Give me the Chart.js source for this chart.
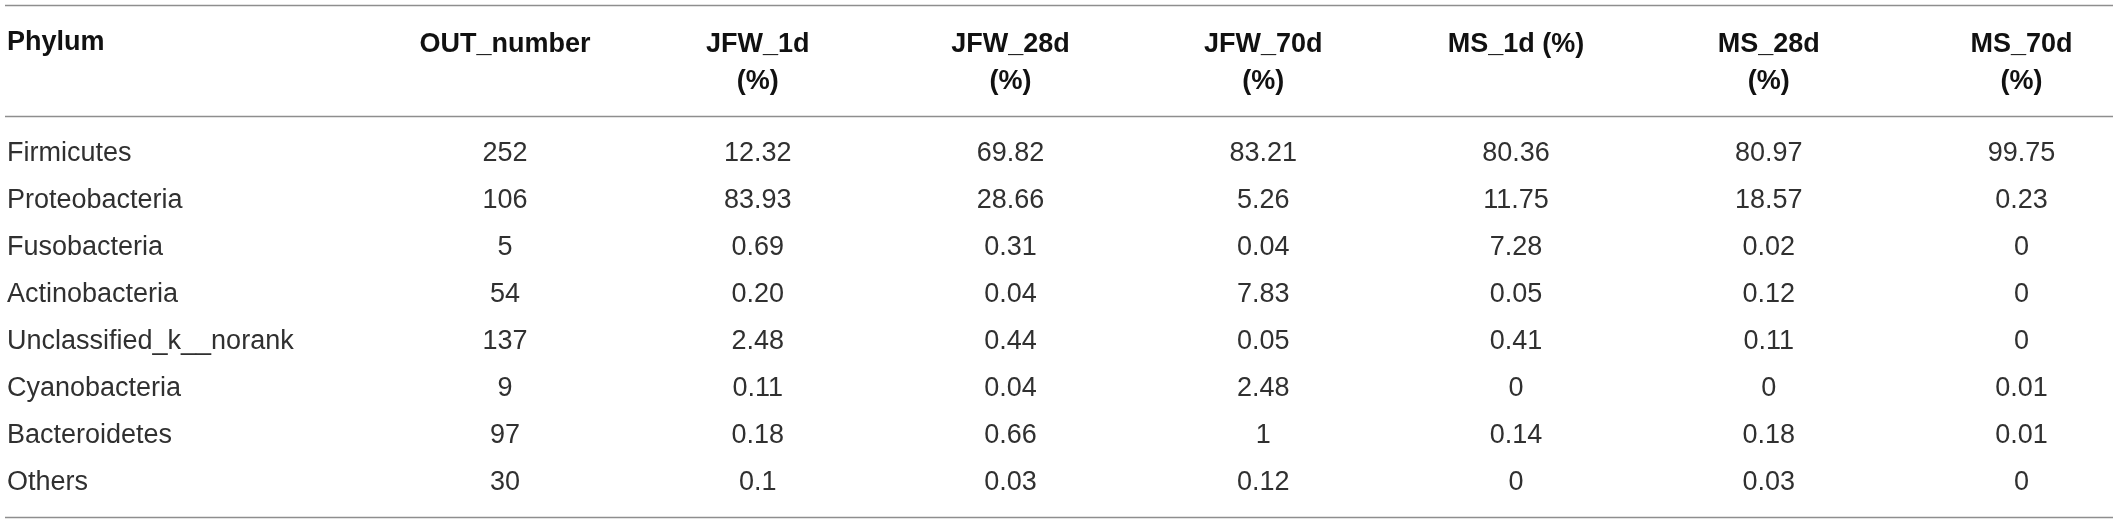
<!DOCTYPE html>
<html>
<head>
<meta charset="utf-8">
<script src="https://cdn.jsdelivr.net/npm/chart.js@4.4.1/dist/chart.umd.min.js"></script>
<style>
  html, body { margin: 0; padding: 0; background: #fff; }
  #wrap { width: 2118px; height: 525px; position: relative; }
</style>
</head>
<body>
<div id="wrap"><canvas id="table"></canvas></div>
<script>
// Rows (phyla) and columns of the table
const phyla = ['Firmicutes', 'Proteobacteria', 'Fusobacteria', 'Actinobacteria',
  'Unclassified_k__norank', 'Cyanobacteria', 'Bacteroidetes', 'Others'];
const headers = ['OUT_number', 'JFW_1d (%)', 'JFW_28d (%)', 'JFW_70d (%)',
  'MS_1d (%)', 'MS_28d (%)', 'MS_70d (%)'];
// how each header wraps in the original
const headerLines = [['OUT_number'], ['JFW_1d', '(%)'], ['JFW_28d', '(%)'], ['JFW_70d', '(%)'],
  ['MS_1d (%)'], ['MS_28d', '(%)'], ['MS_70d', '(%)']];

// Cell values, kept as text so that "0.20" and "1" print as in the source
const outNumber = ['252', '106', '5', '54', '137', '9', '97', '30'];
const jfw1d = ['12.32', '83.93', '0.69', '0.20', '2.48', '0.11', '0.18', '0.1'];
const jfw28d = ['69.82', '28.66', '0.31', '0.04', '0.44', '0.04', '0.66', '0.03'];
const jfw70d = ['83.21', '5.26', '0.04', '7.83', '0.05', '2.48', '1', '0.12'];
const ms1d = ['80.36', '11.75', '7.28', '0.05', '0.41', '0', '0.14', '0'];
const ms28d = ['80.97', '18.57', '0.02', '0.12', '0.11', '0', '0.18', '0.03'];
const ms70d = ['99.75', '0.23', '0', '0', '0', '0.01', '0.01', '0'];

const columns = [outNumber, jfw1d, jfw28d, jfw70d, ms1d, ms28d, ms70d];

const FONT = "'Liberation Sans', Arial, Helvetica, sans-serif";
const BODY_SIZE = 27;
const HEAD_LINE = 37;      // header line height, px
const HEAD_PAD = 45.5;     // gap between header labels and first row
const TEXT_COLOR = '#303030';
const RULE_COLOR = '#8e8e8e';

// one invisible scatter series per column; a plugin prints the cell text at each point
const datasets = columns.map((col, ci) => ({
  label: headers[ci],
  cellText: col,
  data: col.map((_, ri) => ({ x: headers[ci], y: phyla[ri] })),
  pointRadius: 0,
  pointHoverRadius: 0
}));

const cellTextPlugin = {
  id: 'cellText',
  afterDatasetsDraw(chart) {
    const ctx = chart.ctx;
    ctx.save();
    ctx.font = `${BODY_SIZE}px ${FONT}`;
    ctx.fillStyle = TEXT_COLOR;
    ctx.textAlign = 'center';
    ctx.textBaseline = 'middle';
    chart.data.datasets.forEach((ds, i) => {
      chart.getDatasetMeta(i).data.forEach((pt, j) => {
        ctx.fillText(ds.cellText[j], pt.x, pt.y);
      });
    });
    ctx.restore();
  },
  afterDraw(chart) {
    const ctx = chart.ctx;
    const y = chart.scales.y;
    ctx.save();
    // "Phylum" heading, on the first header line
    ctx.font = `bold ${BODY_SIZE}px ${FONT}`;
    ctx.fillStyle = '#111';
    ctx.textAlign = 'left';
    ctx.textBaseline = 'middle';
    ctx.fillText('Phylum', y.left, y.getPixelForValue(-2.38));

    // horizontal rules: top, under the header, bottom
    ctx.strokeStyle = RULE_COLOR;
    ctx.lineWidth = 1.5;
    [-3.17, -0.81, 7.72].forEach(v => {
      const py = Math.round(y.getPixelForValue(v)) + 0.5;
      ctx.beginPath();
      ctx.moveTo(y.left - 2, py);
      ctx.lineTo(chart.width - 5, py);
      ctx.stroke();
    });
    ctx.restore();
  }
};

new Chart(document.getElementById('table'), {
  type: 'scatter',
  data: { datasets },
  options: {
    responsive: true,
    maintainAspectRatio: false,
    animation: false,
    events: [],
    layout: { padding: { left: 7, right: 81, top: 0, bottom: 42 } },
    plugins: {
      legend: { display: false },
      tooltip: { enabled: false }
    },
    scales: {
      x: {
        type: 'category',
        position: 'top',
        labels: headers,
        offset: false,
        grid: { display: false },
        border: { display: false },
        ticks: {
          autoSkip: false,
          maxRotation: 0,
          minRotation: 0,
          crossAlign: 'far',
          padding: HEAD_PAD,
          color: '#111',
          font: { family: FONT, size: BODY_SIZE, weight: 'bold', lineHeight: HEAD_LINE / BODY_SIZE },
          callback: (value, index) => headerLines[index]
        },
        afterFit: axis => { axis.height = 154; }
      },
      y: {
        type: 'category',
        position: 'left',
        labels: phyla,
        offset: false,
        grid: { display: false },
        border: { display: false },
        ticks: {
          autoSkip: false,
          crossAlign: 'far',
          padding: 0,
          color: TEXT_COLOR,
          font: { family: FONT, size: BODY_SIZE }
        },
        // first numeric column sits at the right edge of the name column
        afterFit: axis => { axis.width = 498; }
      }
    }
  },
  plugins: [cellTextPlugin]
});
</script>
</body>
</html>
